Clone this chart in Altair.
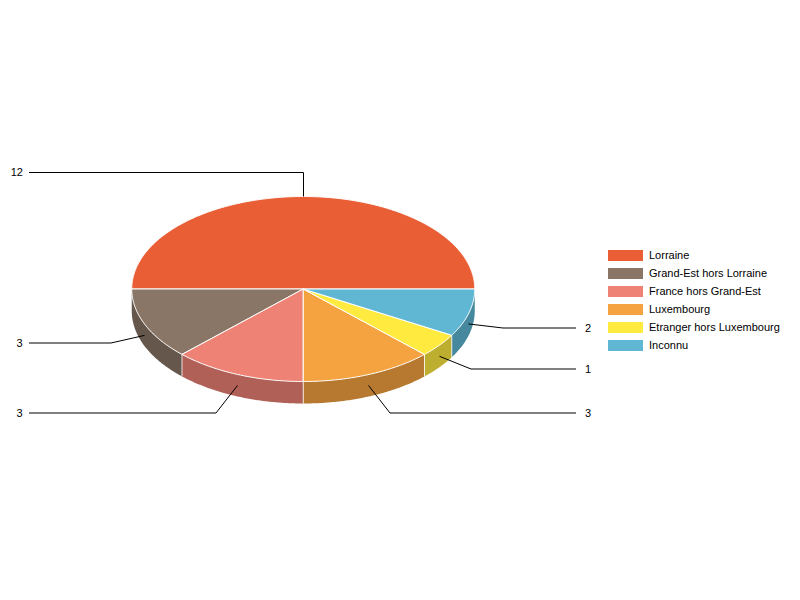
import math
import altair as alt

# ---- data
names = ["Lorraine", "Grand-Est hors Lorraine", "France hors Grand-Est",
         "Luxembourg", "Etranger hors Luxembourg", "Inconnu"]
values = [12, 3, 3, 3, 1, 2]
top_colors = ["#EA5E36", "#8A7667", "#EE8274", "#F5A340", "#FFEB3F", "#5FB7D4"]
side_colors = ["#AE4628", "#66574C", "#B06056", "#B6792F", "#BDAE2F", "#46889D"]

# ---- layout of the pie on the page (page pixels)
CX, CY, RX, RY, DEPTH = 303.25, 289.0, 171.5, 92.5, 22.0
label_y = [172.5, 343, 413, 413, 369, 328]
text_y = [172.5, 343.5, 413.5, 413.5, 369.5, 328.5]
elbow_x = [303.5, 111, 216, 390, 471, 503]
label_end_x = [29, 29, 29, 576, 576, 576]
label_text_x = [23, 22.5, 22.5, 585, 585, 585]
anchor_drop = [0, 11, 11, 11, 11, 11]

total = sum(values)


def pt(deg, drop=0.0):
    a = math.radians(deg)
    return [CX + RX * math.cos(a), -(CY - RY * math.sin(a) + drop)]


def arc(a0, a1, drop=0.0):
    n = max(2, int(abs(a1 - a0) * 2))
    return [pt(a0 + (a1 - a0) * i / n, drop) for i in range(n + 1)]


def feature(name, geom_type, coords, color=None):
    return {"type": "Feature", "properties": {"name": name, "color": color},
            "geometry": {"type": geom_type, "coordinates": coords}}


tops, sides, seams, leaders, labels = [], [], [], [], []
start = 0.0
for i, (name, v) in enumerate(zip(names, values)):
    end = start + 360.0 * v / total
    mid = (start + end) / 2
    centre = [CX, -CY]
    tops.append(feature(name, "Polygon", [[centre] + arc(start, end) + [centre]]))
    # only the near half of the rim shows a wall
    lo, hi = max(start, 180.0), min(end, 360.0)
    if hi > lo:
        ring = arc(lo, hi) + arc(hi, lo, DEPTH)
        sides.append(feature(name, "Polygon", [ring + [ring[0]]], side_colors[i]))
        if lo > 180.0:
            seams.append(feature(name, "LineString", [pt(lo), pt(lo, DEPTH)]))
    anchor = pt(mid, anchor_drop[i])
    anchor[0] = math.floor(anchor[0]) + 0.5
    leaders.append(feature(name, "LineString", [
        anchor, [elbow_x[i], -label_y[i]], [label_end_x[i], -label_y[i]]]))
    labels.append({"lon": label_text_x[i], "lat": -text_y[i], "text": str(v)})
    start = end

proj = alt.Projection(type="identity", reflectY=True, scale=1, translate=[-8, -8])

side_layer = alt.Chart(alt.Data(values=sides)).mark_geoshape(strokeWidth=0).encode(
    fill=alt.Fill("properties.color:N", scale=None)
)
seam_layer = alt.Chart(alt.Data(values=seams)).mark_geoshape(
    filled=False, stroke="#FFFFFF", strokeWidth=1, strokeOpacity=0.8)
top_layer = alt.Chart(alt.Data(values=tops)).mark_geoshape(
    stroke="#FFFFFF", strokeWidth=1
).encode(
    fill=alt.Fill(
        "properties.name:N",
        scale=alt.Scale(domain=names, range=top_colors),
        sort=None,
        legend=alt.Legend(
            title=None, orient="none", legendX=611.5, legendY=241.5,
            symbolType="M-2.917,-0.917H2.917V0.917H-2.917Z", symbolSize=144, symbolStrokeWidth=0,
            labelFont="Liberation Sans", labelFontSize=11, labelColor="#000000",
            labelOffset=17.5, rowPadding=6, labelLimit=200, symbolOpacity=1,
        ),
    )
)
leader_layer = alt.Chart(alt.Data(values=leaders)).mark_geoshape(
    filled=False, stroke="#000000", strokeWidth=1)
text_layer = alt.Chart(alt.Data(values=labels[:3])).mark_text(
    font="Liberation Sans", fontSize=11, color="#000000", align="right", baseline="middle"
).encode(longitude="lon:Q", latitude="lat:Q", text="text:N")
text_layer2 = alt.Chart(alt.Data(values=labels[3:])).mark_text(
    font="Liberation Sans", fontSize=11, color="#000000", align="left", baseline="middle"
).encode(longitude="lon:Q", latitude="lat:Q", text="text:N")

chart = alt.layer(
    side_layer, seam_layer, top_layer, leader_layer, text_layer, text_layer2,
    projection=proj,
).properties(
    width=784, height=584, padding=0, autosize=alt.AutoSizeParams(type="none"),
    background="#FFFFFF",
).configure_view(stroke=None)

chart.save("out.html", embed_options={"renderer": "svg", "actions": False})
